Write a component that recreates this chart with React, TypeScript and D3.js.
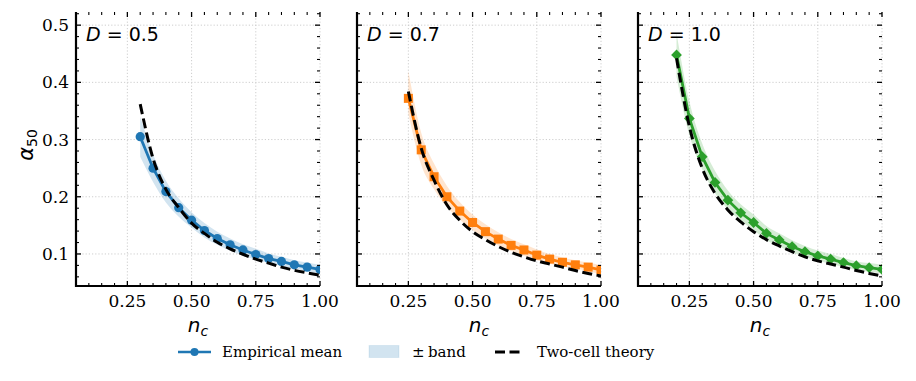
import React from "react";
import * as d3 from "d3";

// n_c sample points per panel
const ncD05 = [0.3, 0.35, 0.4, 0.45, 0.5, 0.55, 0.6, 0.65, 0.7, 0.75, 0.8, 0.85, 0.9, 0.95, 1.0];
const ncD07 = [0.25, 0.3, 0.35, 0.4, 0.45, 0.5, 0.55, 0.6, 0.65, 0.7, 0.75, 0.8, 0.85, 0.9, 0.95, 1.0];
const ncD10 = [0.2, 0.25, 0.3, 0.35, 0.4, 0.45, 0.5, 0.55, 0.6, 0.65, 0.7, 0.75, 0.8, 0.85, 0.9, 0.95, 1.0];

// empirical mean of alpha_50
const meanD05 = [0.305, 0.25, 0.209, 0.181, 0.159, 0.141, 0.127, 0.116, 0.107, 0.099, 0.092, 0.087, 0.081, 0.077, 0.073];
const meanD07 = [0.372, 0.282, 0.235, 0.2, 0.175, 0.155, 0.139, 0.126, 0.115, 0.107, 0.098, 0.091, 0.0855, 0.081, 0.077, 0.072];
const meanD10 = [0.448, 0.337, 0.27, 0.225, 0.194, 0.172, 0.155, 0.136, 0.1245, 0.113, 0.104, 0.0965, 0.091, 0.085, 0.0795, 0.076, 0.073];

// band lower / upper
const lowD05 = [0.27, 0.226, 0.19, 0.165, 0.146, 0.129, 0.116, 0.106, 0.097, 0.09, 0.084, 0.079, 0.074, 0.07, 0.066];
const highD05 = [0.34, 0.274, 0.228, 0.197, 0.173, 0.154, 0.139, 0.127, 0.117, 0.109, 0.101, 0.095, 0.089, 0.085, 0.081];
const lowD07 = [0.345, 0.256, 0.213, 0.182, 0.16, 0.142, 0.127, 0.115, 0.105, 0.097, 0.089, 0.083, 0.078, 0.074, 0.07, 0.065];
const highD07 = [0.42, 0.312, 0.258, 0.219, 0.191, 0.169, 0.152, 0.138, 0.126, 0.117, 0.108, 0.1, 0.094, 0.089, 0.085, 0.08];
const lowD10 = [0.41, 0.308, 0.248, 0.206, 0.178, 0.158, 0.142, 0.124, 0.113, 0.103, 0.095, 0.088, 0.083, 0.077, 0.072, 0.069, 0.066];
const highD10 = [0.486, 0.367, 0.293, 0.245, 0.211, 0.187, 0.169, 0.149, 0.136, 0.124, 0.114, 0.106, 0.1, 0.093, 0.087, 0.084, 0.081];

// two-cell theory curve
const theoryD05 = [0.362, 0.267, 0.213, 0.181, 0.154, 0.136, 0.1205, 0.109, 0.0995, 0.091, 0.084, 0.077, 0.0715, 0.067, 0.063];
const theoryD07 = [0.384, 0.285, 0.229, 0.186, 0.159, 0.139, 0.125, 0.113, 0.103, 0.095, 0.088, 0.0825, 0.077, 0.071, 0.066, 0.0615];
const theoryD10 = [0.442, 0.323, 0.25, 0.206, 0.177, 0.156, 0.139, 0.125, 0.114, 0.104, 0.095, 0.088, 0.0825, 0.077, 0.071, 0.066, 0.0615];

const xMajor = [0.25, 0.5, 0.75, 1.0];
const xMinor = d3.range(2, 20).map((i) => i * 0.05).filter((v) => Math.abs(v / 0.25 - Math.round(v / 0.25)) > 1e-6);
const yMajor = [0.1, 0.2, 0.3, 0.4, 0.5];
const yMinor = d3.range(3, 27).map((i) => i * 0.02).filter((v) => Math.abs(v * 10 - Math.round(v * 10)) > 1e-6);

const panels = [
  { label: "0.5", nc: ncD05, mean: meanD05, lo: lowD05, hi: highD05, theory: theoryD05, color: "#1f77b4", marker: "circle" },
  { label: "0.7", nc: ncD07, mean: meanD07, lo: lowD07, hi: highD07, theory: theoryD07, color: "#ff7f0e", marker: "square" },
  { label: "1.0", nc: ncD10, mean: meanD10, lo: lowD10, hi: highD10, theory: theoryD10, color: "#2ca02c", marker: "diamond" },
];

const W = 916;
const H = 381;
const panelLeft = [76, 357, 638];
const panelW = 244;
const top = 12;
const bottom = 286;
const serif = "DejaVu Serif, serif";
const sans = "DejaVu Sans, sans-serif";

function Marker({ kind, x, y, color }) {
  if (kind === "circle") return <circle cx={x} cy={y} r={4.6} fill={color} />;
  if (kind === "square") return <rect x={x - 4.5} y={y - 4.5} width={9} height={9} fill={color} />;
  const p = d3.symbol(d3.symbolSquare, 58)();
  return <path d={p} transform={`translate(${x},${y}) rotate(45)`} fill={color} />;
}

function Panel({ p, left, first }) {
  const x = d3.scaleLinear().domain([0.05, 1.0]).range([left, left + panelW]);
  const y = d3.scaleLinear().domain([0.044, 0.523]).range([bottom, top]);
  const idx = p.nc.map((_, i) => i);
  const area = d3
    .area<number>()
    .x((i) => x(p.nc[i]))
    .y0((i) => y(p.lo[i]))
    .y1((i) => y(p.hi[i]))
    .curve(d3.curveMonotoneX);
  const meanLine = d3
    .line<number>()
    .x((i) => x(p.nc[i]))
    .y((i) => y(p.mean[i]));
  const theoryLine = d3
    .line<number>()
    .x((i) => x(p.nc[i]))
    .y((i) => y(p.theory[i]))
    .curve(d3.curveMonotoneX);
  const right = left + panelW;
  const clipId = `clip-${p.label}`;
  return (
    <g>
      <defs>
        <clipPath id={clipId}>
          <rect x={left} y={top} width={panelW} height={bottom - top} />
        </clipPath>
      </defs>
      {/* grid */}
      {xMajor.map((v) => (
        <line key={"gx" + v} x1={x(v)} x2={x(v)} y1={top} y2={bottom} stroke="#c8c8c8" strokeWidth={0.9} strokeDasharray="1.2,2" />
      ))}
      {yMajor.map((v) => (
        <line key={"gy" + v} x1={left} x2={right} y1={y(v)} y2={y(v)} stroke="#c8c8c8" strokeWidth={0.9} strokeDasharray="1.2,2" />
      ))}
      <g clipPath={`url(#${clipId})`}>
        <path d={area(idx)} fill={p.color} fillOpacity={0.2} />
        <path d={meanLine(idx)} fill="none" stroke={p.color} strokeWidth={2.8} />
        {idx.map((i) => (
          <Marker key={i} kind={p.marker} x={x(p.nc[i])} y={y(p.mean[i])} color={p.color} />
        ))}
        <path d={theoryLine(idx)} fill="none" stroke="#000" strokeWidth={3} strokeDasharray="10,4.5" />
      </g>
      {/* ticks, all sides, inward */}
      {xMajor.map((v) => (
        <g key={"tx" + v} stroke="#000" strokeWidth={1.3}>
          <line x1={x(v)} x2={x(v)} y1={bottom} y2={bottom - 5} />
          <line x1={x(v)} x2={x(v)} y1={top} y2={top + 5} />
        </g>
      ))}
      {xMinor.map((v) => (
        <g key={"mx" + v} stroke="#000" strokeWidth={1.1}>
          <line x1={x(v)} x2={x(v)} y1={bottom} y2={bottom - 3} />
          <line x1={x(v)} x2={x(v)} y1={top} y2={top + 3} />
        </g>
      ))}
      {yMajor.map((v) => (
        <g key={"ty" + v} stroke="#000" strokeWidth={1.3}>
          <line x1={left} x2={left + 5} y1={y(v)} y2={y(v)} />
          <line x1={right} x2={right - 5} y1={y(v)} y2={y(v)} />
        </g>
      ))}
      {yMinor.map((v) => (
        <g key={"my" + v} stroke="#000" strokeWidth={1.1}>
          <line x1={left} x2={left + 3} y1={y(v)} y2={y(v)} />
          <line x1={right} x2={right - 3} y1={y(v)} y2={y(v)} />
        </g>
      ))}
      {/* spines */}
      <line x1={left} x2={left} y1={top} y2={bottom + 1} stroke="#000" strokeWidth={2.2} />
      <line x1={left - 1} x2={right} y1={bottom} y2={bottom} stroke="#000" strokeWidth={2.2} />
      {/* tick labels */}
      {xMajor.map((v) => (
        <text key={"lx" + v} x={x(v)} y={307} textAnchor="middle" fontFamily={serif} fontSize={17}>
          {v.toFixed(2)}
        </text>
      ))}
      {first &&
        yMajor.map((v) => (
          <text key={"ly" + v} x={left - 7} y={y(v) + 6} textAnchor="end" fontFamily={serif} fontSize={17}>
            {v.toFixed(1)}
          </text>
        ))}
      <text x={(left + right) / 2} y={332} textAnchor="middle" fontFamily={sans} fontSize={20} fontStyle="italic">
        n<tspan fontSize={14} dy={4}>c</tspan>
      </text>
      <text x={left + 10} y={40.5} fontFamily={sans} fontSize={19}>
        <tspan fontStyle="italic">D</tspan> = {p.label}
      </text>
    </g>
  );
}

export default function App() {
  return (
    <div>
      <style>{"body{margin:0}"}</style>
      <svg width={W} height={H} style={{ display: "block", background: "#fff" }}>
        {panels.map((p, i) => (
          <Panel key={p.label} p={p} left={panelLeft[i]} first={i === 0} />
        ))}
        <text transform="translate(33,145) rotate(-90)" textAnchor="middle" fontFamily={sans} fontSize={21} fontStyle="italic">
          α<tspan fontSize={14} dy={4} fontStyle="normal">50</tspan>
        </text>
        {/* legend */}
        <g>
          <line x1={178} x2={211} y1={352} y2={352} stroke="#1f77b4" strokeWidth={2.6} />
          <circle cx={194.5} cy={352} r={4} fill="#1f77b4" />
          <text x={222} y={357} fontFamily={serif} fontSize={15}>Empirical mean</text>
          <rect x={369} y={345.5} width={30} height={12} fill="#1f77b4" fillOpacity={0.2} stroke="#1f77b4" strokeOpacity={0.1} />
          <text x={412} y={357} fontFamily={serif} fontSize={15}>±</text>
          <text x={428} y={357} fontFamily={serif} fontSize={15}>band</text>
          <line x1={495} x2={524} y1={352} y2={352} stroke="#000" strokeWidth={3} strokeDasharray="10,4.5" />
          <text x={537} y={357} fontFamily={serif} fontSize={15}>Two-cell theory</text>
        </g>
      </svg>
    </div>
  );
}
